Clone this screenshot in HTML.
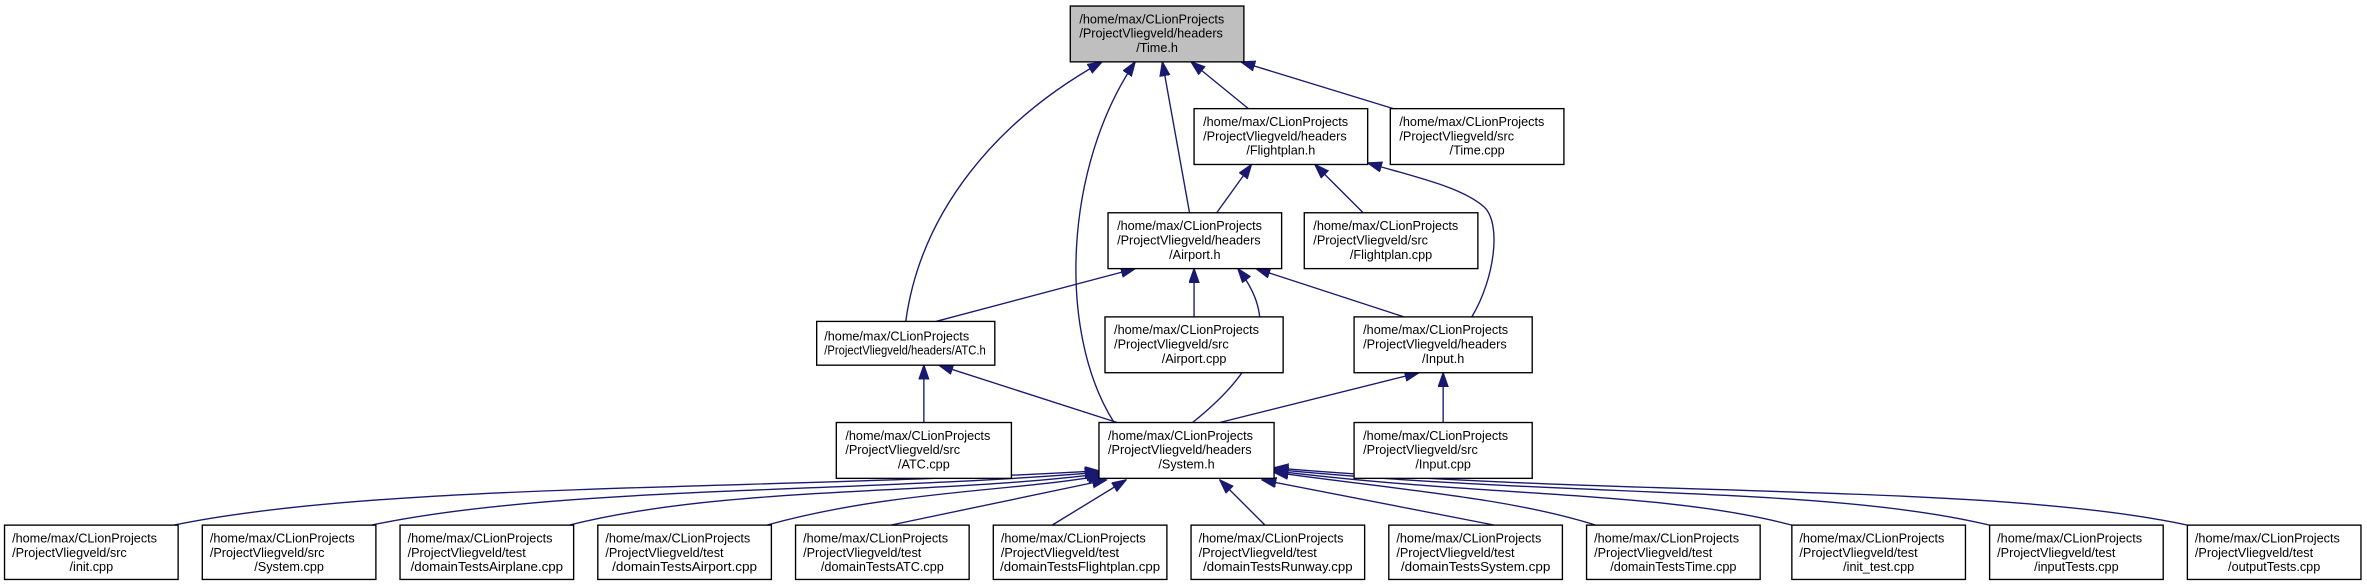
<!DOCTYPE html>
<html><head><meta charset="utf-8"><style>
html,body{margin:0;padding:0;background:#fff;}
svg{display:block;}
text{font-family:"Liberation Sans",Arial,sans-serif;font-size:8.4px;fill:#000;}
.b{fill:#fff;stroke:#000;stroke-width:0.9;}
.e{fill:none;stroke:#191970;stroke-width:0.9;}
.m{text-anchor:middle;}
</style></head><body>
<svg width="2367" height="587" viewBox="0 0 1568 389" preserveAspectRatio="none" xmlns="http://www.w3.org/2000/svg">
<defs>
<marker id="a" markerUnits="userSpaceOnUse" markerWidth="10" markerHeight="8" refX="9.5" refY="3.5" orient="auto">
<path d="M0,0 L10,3.5 L0,7 z" fill="#191970" stroke="#191970" stroke-width="0.5"/>
</marker>
</defs>
<g marker-end="url(#a)">
<path class="e" d="M827,72 L789,41"/>
<path class="e" d="M923,72 L822,41"/>
<path class="e" d="M788,141 L770,41"/>
<path class="e" d="M738,280 C700,220 705,110 752,41"/>
<path class="e" d="M600,213 C610,140 660,80 730,41"/>
<path class="e" d="M806,141 L829,109"/>
<path class="e" d="M903,141 L871,109"/>
<path class="e" d="M975,210 C990,185 995,148 983,137 C968,124 940,118 906,108"/>
<path class="e" d="M620,213 L752,178"/>
<path class="e" d="M791,210 L791,178"/>
<path class="e" d="M930,210 L832,178"/>
<path class="e" d="M790,280 C840,240 845,210 820,178"/>
<path class="e" d="M612,280 L612,242"/>
<path class="e" d="M740,280 L622,242"/>
<path class="e" d="M808,280 L940,247"/>
<path class="e" d="M956,280 L956,247"/>
<path class="e" d="M115,348 C250,320 500,325 728,312"/>
<path class="e" d="M246,348 C370,322 560,327 728,313"/>
<path class="e" d="M377,348 C480,322 620,328 729,314"/>
<path class="e" d="M508,348 C590,325 680,325 730,315"/>
<path class="e" d="M590,348 L733,318"/>
<path class="e" d="M697,348 L746,318"/>
<path class="e" d="M838,348 L808,318"/>
<path class="e" d="M990,348 L836,318"/>
<path class="e" d="M1057,348 C1000,330 930,325 844,313"/>
<path class="e" d="M1187,348 C1100,325 990,330 844,312"/>
<path class="e" d="M1318,348 C1210,322 1040,330 844,311"/>
<path class="e" d="M1449,348 C1320,320 1080,330 844,310"/>
</g>
<rect x="709" y="4" width="115" height="37" fill="#bfbfbf" stroke="#000" stroke-width="0.9"/>
<text x="715" y="15.5">/home/max/CLionProjects</text><text x="715" y="25">/ProjectVliegveld/headers</text><text class="m" x="766.5" y="34.5">/Time.h</text>
<rect class="b" x="791" y="72" width="115" height="37"/>
<text x="797" y="83.5">/home/max/CLionProjects</text><text x="797" y="93">/ProjectVliegveld/headers</text><text class="m" x="848.5" y="102.5">/Flightplan.h</text>
<rect class="b" x="921" y="72" width="115" height="37"/>
<text x="927" y="83.5">/home/max/CLionProjects</text><text x="927" y="93">/ProjectVliegveld/src</text><text class="m" x="978.5" y="102.5">/Time.cpp</text>
<rect class="b" x="734" y="141" width="115" height="37"/>
<text x="740" y="152.5">/home/max/CLionProjects</text><text x="740" y="162">/ProjectVliegveld/headers</text><text class="m" x="791.5" y="171.5">/Airport.h</text>
<rect class="b" x="864" y="141" width="115" height="37"/>
<text x="870" y="152.5">/home/max/CLionProjects</text><text x="870" y="162">/ProjectVliegveld/src</text><text class="m" x="921.5" y="171.5">/Flightplan.cpp</text>
<rect class="b" x="541" y="213" width="118" height="29"/>
<text x="546" y="225.5">/home/max/CLionProjects</text><text x="546" y="235" textLength="107" lengthAdjust="spacingAndGlyphs">/ProjectVliegveld/headers/ATC.h</text>
<rect class="b" x="732" y="210" width="118" height="37"/>
<text x="738" y="221.5">/home/max/CLionProjects</text><text x="738" y="231">/ProjectVliegveld/src</text><text class="m" x="791" y="240.5">/Airport.cpp</text>
<rect class="b" x="897" y="210" width="118" height="37"/>
<text x="903" y="221.5">/home/max/CLionProjects</text><text x="903" y="231">/ProjectVliegveld/headers</text><text class="m" x="956" y="240.5">/Input.h</text>
<rect class="b" x="554" y="280" width="116" height="37"/>
<text x="560" y="291.5">/home/max/CLionProjects</text><text x="560" y="301">/ProjectVliegveld/src</text><text class="m" x="612" y="310.5">/ATC.cpp</text>
<rect class="b" x="728" y="280" width="116" height="37"/>
<text x="734" y="291.5">/home/max/CLionProjects</text><text x="734" y="301">/ProjectVliegveld/headers</text><text class="m" x="786" y="310.5">/System.h</text>
<rect class="b" x="897" y="280" width="118" height="37"/>
<text x="903" y="291.5">/home/max/CLionProjects</text><text x="903" y="301">/ProjectVliegveld/src</text><text class="m" x="956" y="310.5">/Input.cpp</text>
<rect class="b" x="3" y="348" width="115" height="36"/>
<text x="8" y="359.5">/home/max/CLionProjects</text><text x="8" y="369">/ProjectVliegveld/src</text><text class="m" x="60.5" y="378.5">/init.cpp</text>
<rect class="b" x="134" y="348" width="115" height="36"/>
<text x="139" y="359.5">/home/max/CLionProjects</text><text x="139" y="369">/ProjectVliegveld/src</text><text class="m" x="191.5" y="378.5">/System.cpp</text>
<rect class="b" x="265" y="348" width="115" height="36"/>
<text x="270" y="359.5">/home/max/CLionProjects</text><text x="270" y="369">/ProjectVliegveld/test</text><text class="m" x="322.5" y="378.5" textLength="101" lengthAdjust="spacingAndGlyphs">/domainTestsAirplane.cpp</text>
<rect class="b" x="396" y="348" width="115" height="36"/>
<text x="401" y="359.5">/home/max/CLionProjects</text><text x="401" y="369">/ProjectVliegveld/test</text><text class="m" x="453.5" y="378.5" textLength="96" lengthAdjust="spacingAndGlyphs">/domainTestsAirport.cpp</text>
<rect class="b" x="527" y="348" width="115" height="36"/>
<text x="532" y="359.5">/home/max/CLionProjects</text><text x="532" y="369">/ProjectVliegveld/test</text><text class="m" x="584.5" y="378.5">/domainTestsATC.cpp</text>
<rect class="b" x="658" y="348" width="115" height="36"/>
<text x="663" y="359.5">/home/max/CLionProjects</text><text x="663" y="369">/ProjectVliegveld/test</text><text class="m" x="715.5" y="378.5" textLength="106" lengthAdjust="spacingAndGlyphs">/domainTestsFlightplan.cpp</text>
<rect class="b" x="789" y="348" width="115" height="36"/>
<text x="794" y="359.5">/home/max/CLionProjects</text><text x="794" y="369">/ProjectVliegveld/test</text><text class="m" x="846.5" y="378.5" textLength="99" lengthAdjust="spacingAndGlyphs">/domainTestsRunway.cpp</text>
<rect class="b" x="920" y="348" width="115" height="36"/>
<text x="925" y="359.5">/home/max/CLionProjects</text><text x="925" y="369">/ProjectVliegveld/test</text><text class="m" x="977.5" y="378.5" textLength="99" lengthAdjust="spacingAndGlyphs">/domainTestsSystem.cpp</text>
<rect class="b" x="1051" y="348" width="115" height="36"/>
<text x="1056" y="359.5">/home/max/CLionProjects</text><text x="1056" y="369">/ProjectVliegveld/test</text><text class="m" x="1108.5" y="378.5">/domainTestsTime.cpp</text>
<rect class="b" x="1187" y="348" width="115" height="36"/>
<text x="1192" y="359.5">/home/max/CLionProjects</text><text x="1192" y="369">/ProjectVliegveld/test</text><text class="m" x="1244.5" y="378.5">/init_test.cpp</text>
<rect class="b" x="1318" y="348" width="115" height="36"/>
<text x="1323" y="359.5">/home/max/CLionProjects</text><text x="1323" y="369">/ProjectVliegveld/test</text><text class="m" x="1375.5" y="378.5">/inputTests.cpp</text>
<rect class="b" x="1449" y="348" width="115" height="36"/>
<text x="1454" y="359.5">/home/max/CLionProjects</text><text x="1454" y="369">/ProjectVliegveld/test</text><text class="m" x="1506.5" y="378.5">/outputTests.cpp</text>
</svg>
</body></html>
